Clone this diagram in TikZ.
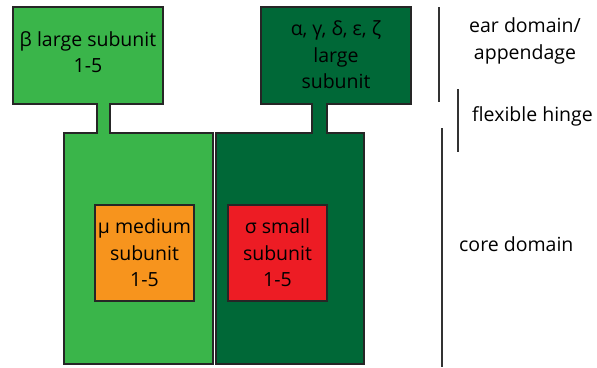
\documentclass[tikz,border=0pt]{standalone}
\usepackage{fontspec}
\setmainfont{Open Sans}
\definecolor{lightgreen}{HTML}{3AB54A}
\definecolor{darkgreen}{HTML}{006837}
\definecolor{subunitorange}{HTML}{F7941D}
\definecolor{subunitred}{HTML}{ED1C24}
\definecolor{rulegray}{HTML}{333333}
\tikzset{
  adaptin/.style={draw=black!85, line width=1.6pt, line join=miter},
  subbox/.style={draw=black!85, line width=1.6pt, minimum width=99pt, minimum height=96pt, inner sep=0pt},
  lbl/.style={align=center, inner sep=0pt, font=\fontsize{19.5}{26.5}\selectfont},
  domainbar/.style={draw=rulegray, line width=2pt},
}
\begin{document}
\begin{tikzpicture}[x=1pt,y=-1pt]
\useasboundingbox (0,0) rectangle (597,367);
% beta adaptin: ear, hinge and trunk as one outline
\draw[adaptin, fill=lightgreen]
  (13,7) -- (163,7) -- (163,104) -- (110,104) -- (110,133) -- (213,133)
  -- (213,364) -- (64,364) -- (64,133) -- (97,133) -- (97,104) -- (13,104) -- cycle;
% alpha/gamma/delta/epsilon/zeta adaptin
\draw[adaptin, fill=darkgreen]
  (261,7) -- (411,7) -- (411,104) -- (327,104) -- (327,133) -- (364,133)
  -- (364,364) -- (216,364) -- (216,133) -- (312,133) -- (312,104) -- (261,104) -- cycle;
% ear labels
\node[lbl] (beta) at (88,52) {β large subunit\\1-5};
\node[lbl] (alpha) at (336,55) {α, γ, δ, ε, ζ\\large\\subunit};
% medium and small subunits
\node[subbox, fill=subunitorange, lbl] (mu) at (144.5,253) {μ medium\\subunit\\1-5};
\node[subbox, fill=subunitred, lbl] (sigma) at (277.5,253) {σ small\\subunit\\1-5};
% domain brackets
\coordinate (earTop) at (439,7);
\coordinate (earBot) at (439,102);
\coordinate (hingeTop) at (458,89);
\coordinate (hingeBot) at (458,152);
\coordinate (coreTop) at (442,128);
\coordinate (coreBot) at (442,367);
\draw[domainbar] (earTop) -- (earBot);
\draw[domainbar] (hingeTop) -- (hingeBot);
\draw[domainbar] (coreTop) -- (coreBot);
\node[lbl] (ear) at (525,41) {ear domain/\\appendage};
\node[lbl, anchor=west] (hinge) at (472,116) {flexible hinge};
\node[lbl, anchor=west] (core) at (459,244) {core domain};
\end{tikzpicture}
\end{document}
